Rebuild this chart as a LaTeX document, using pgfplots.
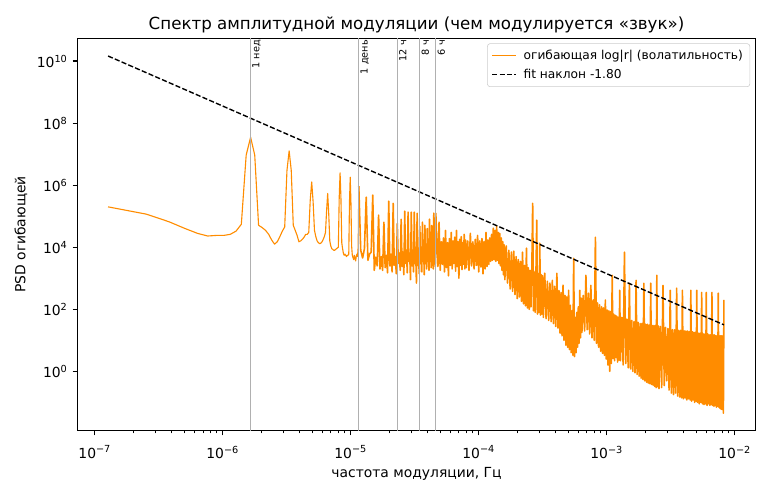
\documentclass[border=0pt]{standalone}
\usepackage{fontspec}
\setmainfont{DejaVu Sans}
\usepackage{pgfplots}
\pgfplotsset{compat=1.18}
\definecolor{dorange}{RGB}{255,140,0}
\definecolor{vgray}{RGB}{176,176,176}
\definecolor{legedge}{RGB}{204,204,204}
\begin{document}
\begin{tikzpicture}
\begin{axis}[
  scale only axis, width=488.4pt, height=282.4pt,
  at={(0,0)}, anchor=south west,
  xmode=log, ymode=log,
  xmin=7.31e-8, xmax=1.459e-2, ymin=0.0124, ymax=5.38e10,
  xtick={1e-7,1e-6,1e-5,1e-4,1e-3,1e-2},
  xticklabels={10\textsuperscript{−7},10\textsuperscript{−6},10\textsuperscript{−5},10\textsuperscript{−4},10\textsuperscript{−3},10\textsuperscript{−2}},
  ytick={1,1e2,1e4,1e6,1e8,1e10},
  yticklabels={10\textsuperscript{0},10\textsuperscript{2},10\textsuperscript{4},10\textsuperscript{6},10\textsuperscript{8},10\textsuperscript{10}},
  yminorticks=false,
  tick align=outside, tick pos=left,
  major tick length=3.5pt, minor tick length=2pt,
  every tick/.style={black, line width=0.8pt},
  every minor tick/.append style={line width=0.6pt},
  axis line style={line width=0.8pt},
  title={Спектр амплитудной модуляции (чем модулируется «звук»)},
  title style={font=\fontsize{12}{14}\selectfont, yshift=-5.8pt},
  xlabel={частота модуляции, Гц}, ylabel={PSD огибающей},
  label style={font=\fontsize{10}{12}\selectfont},
  tick label style={font=\fontsize{10}{12}\selectfont},
  xticklabel style={yshift=-4pt},
  legend cell align=left,
  legend style={at={(1,1)}, anchor=north east, xshift=-4pt, yshift=-3.6pt,
    draw=legedge, rounded corners=2pt, fill=white,
    font=\fontsize{8.8}{11}\selectfont, inner xsep=3pt, inner ysep=2.5pt,
    row sep=1.5pt, column sep=3pt},
]
\addplot[dorange, line width=0.8pt, line join=round] coordinates {
(1.27e-7,2.0e5) (2.54e-7,1.16e5) (3.81e-7,6.6e4) (5.08e-7,4.0e4) (6.35e-7,2.8e4) (7.62e-7,2.3e4) (8.89e-7,2.4e4) (1.016e-6,2.4e4) (1.143e-6,2.6e4) (1.27e-6,3.3e4) (1.397e-6,5.5e4) (1.524e-6,9.3e6) (1.651e-6,3.5e7) (1.778e-6,9.3e6) (1.905e-6,5.1e4) (2.032e-6,4.3e4) (2.159e-6,3.5e4) (2.286e-6,2.6e4) (2.413e-6,1.7e4) (2.54e-6,1.26e4) (2.667e-6,1.5e4) (2.794e-6,2.2e4) (2.921e-6,3.3e4) (3.048e-6,4.5e4) (3.175e-6,3.0e6) (3.302e-6,1.27e7) (3.429e-6,3.0e6) (3.556e-6,5.1e4) (3.683e-6,3.5e4) (3.81e-6,2.4e4) (3.937e-6,1.5e4) (4.064e-6,1.6e4) (4.191e-6,1.8e4) (4.318e-6,2.1e4) (4.445e-6,2.6e4) (4.572e-6,2.6e4) (4.699e-6,3.0e4) (4.826e-6,3.3e5) (4.953e-6,1.27e6) (5.08e-6,3.0e5) (5.207e-6,3.5e4) (5.334e-6,2.2e4) (5.461e-6,1.6e4) (5.588e-6,1.4e4) (5.715e-6,1.3e4) (5.842e-6,1.35e4) (5.969e-6,1.5e4) (6.096e-6,1.8e4) (6.223e-6,2.2e4) (6.35e-6,3.0e4) (6.477e-6,1.5e5) (6.604e-6,5.4e5) (6.731e-6,1.2e5) (6.858e-6,1.6e4) (6.985e-6,1.1e4) (7.112e-6,9.0e3) (7.239e-6,8.5e3) (7.366e-6,8.0e3) (7.493e-6,8.0e3) (7.62e-6,8.5e3) (7.747e-6,9.0e3) (7.874e-6,9.5e3) (8.001e-6,1.0e4) (8.128e-6,4.0e5) (8.255e-6,2.5e6) (8.382e-6,4.0e5) (8.509e-6,1.4e4) (8.636e-6,9.0e3) (8.763e-6,6.3e3) (8.89e-6,5.5e3) (9.017e-6,6.0e3) (9.144e-6,5.5e3) (9.271e-6,5.0e3) (9.398e-6,5.5e3) (9.525e-6,5.5e3) (9.652e-6,6.0e3) (9.779e-6,3.0e5) (9.906e-6,1.8e6) (1.0033e-5,3.0e5) (1.016e-5,1.1e4) (1.0287e-5,5.5e3) (1.0414e-5,4.6e3) (1.0541e-5,4.0e3) (1.0668e-5,5.5e3) (1.0795e-5,4.5e3) (1.0922e-5,3.6e3) (1.1049e-5,5.0e3) (1.1176e-5,6.0e3) (1.1303e-5,5.0e3) (1.143e-5,1.0e4) (11.557e-6,9.3e5)
};
\addlegendentry{огибающая log|r| (волатильность)}
\addplot[dorange, line width=1.15pt, line join=round, forget plot] coordinates {
(11.557e-6,9.3e5) (11.970e-6,8.0e3) (12.383e-6,4.5e3) (12.795e-6,9.0e3) (13.208e-6,4.1e5) (13.621e-6,3.8e3) (14.034e-6,6.0e3) (14.446e-6,7.0e3) (14.859e-6,4.8e5) (15.272e-6,1.8e3) (15.685e-6,4.8e3) (16.097e-6,2.5e3) (16.510e-6,1.08e5) (16.923e-6,2.0e3) (17.336e-6,5.0e3) (17.748e-6,1.8e3) (18.161e-6,6.4e4) (18.574e-6,2.2e3) (18.987e-6,5.5e3) (19.399e-6,1.5e3) (19.812e-6,3.05e5) (20.225e-6,2.5e3) (20.638e-6,6.0e3) (21.050e-6,1.6e3) (21.463e-6,2.6e5) (21.876e-6,2.6e3) (22.289e-6,5.0e3) (22.701e-6,1.4e3) (23.114e-6,5.9e4) (23.527e-6,3.0e3) (23.940e-6,6.4e3) (24.352e-6,1.8e3) (24.765e-6,8.0e4) (25.178e-6,2.4e3) (25.591e-6,7.0e3) (26.003e-6,1.3e3) (26.416e-6,1.45e5) (26.829e-6,3.0e3) (27.242e-6,8.0e3) (27.654e-6,1.5e3) (28.067e-6,1.35e5) (28.480e-6,3.5e3) (28.893e-6,6.5e3) (29.305e-6,9.0e2) (29.718e-6,1.35e5) (30.131e-6,2.5e3) (30.544e-6,8.0e3) (30.956e-6,1.6e3) (31.369e-6,1.35e5) (31.782e-6,3.0e3) (32.195e-6,7.0e3) (32.607e-6,7.0e2) (33.020e-6,1.25e5) (33.433e-6,2.6e3) (33.846e-6,9.0e3) (34.258e-6,1.4e3) (34.671e-6,4.75e4) (35.084e-6,3.0e3) (35.497e-6,1.0e4) (35.909e-6,1.6e3) (36.322e-6,6.4e4) (36.735e-6,3.5e3) (37.148e-6,9.0e3) (37.560e-6,1.3e3) (37.973e-6,5.1e4) (38.386e-6,3.0e3) (38.799e-6,1.1e4) (39.211e-6,2.0e3) (39.624e-6,4.0e4) (40.037e-6,4.0e3) (40.450e-6,1.2e4) (40.862e-6,1.8e3) (41.275e-6,8.0e4) (41.688e-6,3.5e3) (42.101e-6,1.3e4) (42.513e-6,2.2e3) (42.926e-6,5.0e4) (43.339e-6,4.0e3) (43.752e-6,1.4e4) (44.164e-6,2.0e3) (44.577e-6,1.25e5) (44.990e-6,3.0e3) (45.403e-6,1.5e4) (45.815e-6,2.4e3) (46.228e-6,1.25e5)
(47e-6,1.7e4) (48e-6,2.4e3) (49e-6,6.4e4) (50e-6,1.8e3) (51e-6,1.5e4) (52e-6,2.8e3) (53e-6,2.0e4) (54e-6,1.6e3) (55e-6,3.5e4) (56e-6,2.2e3) (57e-6,1.4e4) (58e-6,1.2e3) (59e-6,1.9e4) (60e-6,2.6e3) (61e-6,3.0e4) (62e-6,2.0e3) (63e-6,1.6e4) (64e-6,3.0e3) (65e-6,2.1e4) (66e-6,1.7e3) (67e-6,3.5e4) (68e-6,2.4e3) (69e-6,1.5e4) (70e-6,1.0e3) (71e-6,1.8e4) (72e-6,2.6e3) (73e-6,2.2e4) (74e-6,1.9e3) (75e-6,1.4e4) (76e-6,2.8e3) (77e-6,2.6e4) (78e-6,2.0e3) (79e-6,1.7e4)
(80e-6,2.2e3) (82e-6,1.6e4) (84e-6,1.8e3) (86e-6,2.8e4) (88e-6,2.5e3) (90e-6,1.5e4) (92e-6,2.0e3) (94e-6,1.8e4) (96e-6,2.6e3) (98e-6,2.4e4) (100e-6,1.6e3) (102e-6,1.6e4) (104e-6,2.3e3) (106e-6,1.9e4) (108e-6,1.4e3) (110e-6,1.5e4) (112e-6,2.0e3) (114e-6,3.0e4) (116e-6,2.4e3) (118e-6,1.7e4) (120e-6,2.8e3) (122e-6,2.0e4) (124e-6,3.5e3) (126e-6,2.6e4) (128e-6,3.8e3) (130e-6,4.1e4) (132e-6,4.0e3) (134e-6,3.5e4) (136e-6,3.5e3) (138e-6,4.75e4) (140e-6,3.8e3) (142e-6,3.0e4) (144e-6,3.0e3) (146e-6,2.8e4) (148e-6,2.5e3) (150e-6,2.0e4) (152e-6,1.8e3) (154e-6,1.5e4) (156e-6,1.3e3) (158e-6,1.2e4)
(160e-6,9.0e2) (164e-6,1.1e4) (168e-6,7.0e2) (172e-6,8.0e3) (176e-6,4.5e2) (180e-6,7.0e3) (184e-6,3.8e2) (188e-6,7.5e3) (192e-6,3.0e2) (196e-6,5.0e3) (200e-6,2.2e2) (204e-6,4.0e3) (208e-6,2.5e2) (212e-6,3.5e3) (216e-6,1.8e2) (220e-6,6.9e3) (224e-6,1.5e2) (228e-6,2.6e3) (232e-6,1.3e2) (236e-6,9.3e3) (240e-6,1.1e2) (244e-6,2.2e3) (248e-6,1.0e2) (252e-6,1.8e3) (256e-6,1.2e2) (260e-6,2.0e3) (264e-6,2.6e5) (268e-6,9.0e1) (272e-6,1.6e3) (276e-6,8.0e1) (280e-6,1.5e3) (284e-6,7.4e4) (288e-6,7.0e1) (292e-6,1.4e3) (296e-6,8.0e1) (300e-6,1.35e4) (304e-6,6.5e1) (308e-6,1.3e3) (312e-6,7.0e1) (316e-6,1.2e3)
(320e-6,5.5e1) (328e-6,1.45e3) (336e-6,5.0e1) (344e-6,8.0e2) (352e-6,4.4e1) (360e-6,7.0e2) (368e-6,4.0e1) (376e-6,8.6e2) (384e-6,3.5e1) (392e-6,5.5e2) (400e-6,2.8e1) (408e-6,1.45e3) (416e-6,2.5e1) (424e-6,4.0e2) (432e-6,1.7e1) (440e-6,3.5e2) (448e-6,1.4e1) (456e-6,6.0e2) (464e-6,1.0e1) (472e-6,2.8e2) (480e-6,7.0) (488e-6,2.5e2) (496e-6,6.0) (504e-6,4.1e2) (512e-6,5.0) (520e-6,1.35e2) (528e-6,4.0) (536e-6,9.0e1) (544e-6,3.3) (552e-6,4.4e3) (560e-6,3.0) (568e-6,5.5e1) (576e-6,4.0) (584e-6,8.0e1) (592e-6,6.0) (600e-6,1.2e2) (608e-6,8.0) (616e-6,4.1e2) (624e-6,1.2e1) (632e-6,2.3e2)
(640e-6,1.8e1) (656e-6,2.8e2) (672e-6,2.0e1) (688e-6,1.25e3) (704e-6,2.2e1) (720e-6,3.3e2) (736e-6,1.6e1) (752e-6,5.9e2) (768e-6,1.2e1) (784e-6,2.0e2) (800e-6,1.0e1) (816e-6,2.1e4) (832e-6,8.0) (848e-6,1.6e2) (864e-6,6.0) (880e-6,1.4e2) (896e-6,4.5) (912e-6,1.2e2) (928e-6,3.8) (944e-6,1.1e2) (960e-6,3.3) (976e-6,2.0e2) (992e-6,2.5) (1008e-6,9.5e1) (1024e-6,1.6) (1040e-6,9.0e1) (1056e-6,1.0) (1072e-6,8.5e1) (1088e-6,1.8) (1104e-6,1.25e3) (1120e-6,2.6) (1136e-6,7.0e1) (1152e-6,2.2) (1168e-6,6.4e1) (1184e-6,2.8) (1200e-6,6.0e1) (1216e-6,2.0) (1232e-6,5.5e1) (1248e-6,2.3) (1264e-6,4.1e2)
(1280e-6,2.2) (1312e-6,5.5e1) (1344e-6,1.6) (1376e-6,6.9e3) (1408e-6,1.8) (1440e-6,4.8e1) (1472e-6,1.3) (1504e-6,6.9e2) (1536e-6,1.2) (1568e-6,4.4e1) (1600e-6,1.0) (1632e-6,4.0e1) (1664e-6,0.9) (1696e-6,8.6e2) (1728e-6,0.8) (1760e-6,3.8e1) (1792e-6,0.7) (1824e-6,3.5e1) (1856e-6,0.6) (1888e-6,3.5e1) (1920e-6,0.55) (1952e-6,6.9e2) (1984e-6,0.5) (2016e-6,3.3e1) (2048e-6,0.45) (2080e-6,3.3e1) (2112e-6,0.42) (2144e-6,3.1e1) (2176e-6,0.4) (2208e-6,6.9e2) (2240e-6,0.38) (2272e-6,3.0e1) (2304e-6,0.36) (2336e-6,3.0e1) (2368e-6,0.33) (2400e-6,3.0e1) (2432e-6,0.3) (2464e-6,1.25e3) (2496e-6,0.32) (2528e-6,2.9e1)
(2560e-6,0.28) (2624e-6,2.8e1) (2688e-6,0.3) (2752e-6,5.9e2) (2816e-6,0.35) (2880e-6,2.6e1) (2944e-6,0.5) (3008e-6,2.4e1) (3072e-6,0.25) (3136e-6,4.1e2) (3200e-6,0.2) (3264e-6,2.2e1) (3328e-6,0.18) (3392e-6,2.2e1) (3456e-6,0.2) (3520e-6,4.8e2) (3584e-6,0.16) (3648e-6,2.1e1) (3712e-6,0.15) (3776e-6,2.1e1) (3840e-6,0.14) (3904e-6,4.1e2) (3968e-6,0.13) (4032e-6,2.0e1) (4096e-6,0.14) (4160e-6,2.0e1) (4224e-6,0.12) (4288e-6,2.0e1) (4352e-6,0.13) (4416e-6,1.9e1) (4480e-6,0.12) (4544e-6,4.1e2) (4608e-6,0.11) (4672e-6,1.9e1) (4736e-6,0.12) (4800e-6,1.8e1) (4864e-6,0.1) (4928e-6,1.8e1) (4992e-6,0.11) (5056e-6,4.1e2)
(5120e-6,0.1) (5200e-6,1.7e1) (5280e-6,0.09) (5360e-6,1.7e1) (5440e-6,0.1) (5520e-6,3.5e2) (5600e-6,0.09) (5680e-6,1.6e1) (5760e-6,0.085) (5840e-6,1.6e1) (5920e-6,0.09) (6000e-6,3.5e2) (6080e-6,0.08) (6160e-6,1.6e1) (6240e-6,0.09) (6320e-6,1.5e1) (6400e-6,0.08) (6480e-6,1.5e1) (6560e-6,0.085) (6640e-6,3.5e2) (6720e-6,0.08) (6800e-6,1.5e1) (6880e-6,0.075) (6960e-6,1.5e1) (7040e-6,0.08) (7120e-6,1.4e1) (7200e-6,0.07) (7280e-6,1.4e1) (7360e-6,0.075) (7440e-6,3.3e2) (7520e-6,0.07) (7600e-6,1.4e1) (7680e-6,0.065) (7760e-6,1.4e1) (7840e-6,0.06) (7920e-6,1.4e1) (8000e-6,0.06) (8080e-6,1.4e1) (8160e-6,0.045) (8240e-6,2.0e2)
};
\addplot[black, line width=1pt, dash pattern=on 3.7pt off 1.6pt] coordinates {(1.27e-7,1.45e10) (8.24e-3,31.6)};
\addlegendentry{fit наклон -1.80}
\addplot[vgray, line width=0.8pt, forget plot] coordinates {(1.6534e-6,1e-3) (1.6534e-6,1e12)};
\addplot[vgray, line width=0.8pt, forget plot] coordinates {(1.1574e-5,1e-3) (1.1574e-5,1e12)};
\addplot[vgray, line width=0.8pt, forget plot] coordinates {(2.3148e-5,1e-3) (2.3148e-5,1e12)};
\addplot[vgray, line width=0.8pt, forget plot] coordinates {(3.4722e-5,1e-3) (3.4722e-5,1e12)};
\addplot[vgray, line width=0.8pt, forget plot] coordinates {(4.6296e-5,1e-3) (4.6296e-5,1e12)};
\node[rotate=90, anchor=north east, inner sep=1pt, font=\fontsize{7}{8}\selectfont] at (axis cs:1.6534e-6,5.38e10) {1 нед};
\node[rotate=90, anchor=north east, inner sep=1pt, font=\fontsize{7}{8}\selectfont] at (axis cs:1.1574e-5,5.38e10) {1 день};
\node[rotate=90, anchor=north east, inner sep=1pt, font=\fontsize{7}{8}\selectfont] at (axis cs:2.3148e-5,5.38e10) {12 ч};
\node[rotate=90, anchor=north east, inner sep=1pt, font=\fontsize{7}{8}\selectfont] at (axis cs:3.4722e-5,5.38e10) {8 ч};
\node[rotate=90, anchor=north east, inner sep=1pt, font=\fontsize{7}{8}\selectfont] at (axis cs:4.6296e-5,5.38e10) {6 ч};
\end{axis}
\pgfresetboundingbox
\useasboundingbox (-55.7pt,-46.4pt) rectangle (498.7pt,310.0pt);
\end{tikzpicture}
\end{document}
